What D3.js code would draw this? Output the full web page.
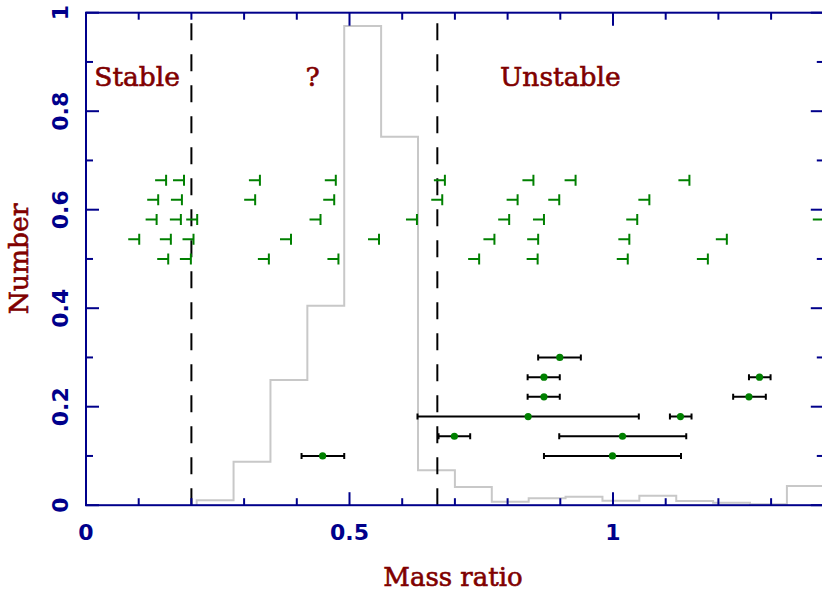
<!DOCTYPE html>
<html>
<head>
<meta charset="utf-8">
<script src="https://cdn.jsdelivr.net/npm/d3@7"></script>
<style>
  html, body { margin: 0; padding: 0; background: #fff; }
  svg { display: block; }
</style>
</head>
<body>
<svg id="chart" width="822" height="593"></svg>
<script>
// ---- data ----
const histEdges = [0.21, 0.28, 0.35, 0.42, 0.49, 0.56, 0.63, 0.70, 0.77, 0.84, 0.91, 0.98, 1.05, 1.12, 1.19, 1.26, 1.33, 1.40];
const histValues = [0.010, 0.088, 0.254, 0.405, 0.973, 0.748, 0.071, 0.037, 0.007, 0.014, 0.017, 0.009, 0.019, 0.0085, 0.005, 0.002, 0.039];

const limitRowY = [0.66, 0.62, 0.58, 0.54, 0.50];
const limitsRow066 = [0.152, 0.186, 0.330, 0.474, 0.681, 0.849, 0.929, 1.145];
const limitsRow062 = [0.137, 0.182, 0.321, 0.471, 0.676, 0.819, 0.898, 1.069];
const limitsRow058 = [0.134, 0.180, 0.211, 0.445, 0.628, 0.803, 0.869, 1.046, 1.400];
const limitsRow054 = [0.101, 0.161, 0.204, 0.389, 0.556, 0.775, 0.858, 1.031, 1.216];
const limitsRow050 = [0.000, 0.156, 0.199, 0.347, 0.479, 0.746, 0.857, 1.028, 1.180];

const pointQ  = [0.899, 0.869, 1.278, 0.869, 1.258, 0.839, 1.128, 0.699, 1.018, 0.449, 0.999];
const pointLo = [0.858, 0.838, 1.258, 0.838, 1.228, 0.629, 1.108, 0.669, 0.898, 0.409, 0.869];
const pointHi = [0.939, 0.899, 1.299, 0.899, 1.290, 1.049, 1.149, 0.729, 1.139, 0.490, 1.129];
const pointN  = [0.30, 0.26, 0.26, 0.22, 0.22, 0.18, 0.18, 0.14, 0.14, 0.10, 0.10];

const boundaries = [0.2, 2 / 3];
const regionLabels = ["Stable", "?", "Unstable"];
const regionLabelX = [0.097, 0.43, 0.90];

const xMajorTicks = [0, 0.5, 1];
const xTickLabels = ["0", "0.5", "1"];
const xMinorTicks = [0.1, 0.2, 0.3, 0.4, 0.6, 0.7, 0.8, 0.9, 1.1, 1.2, 1.3];
const yMajorTicks = [0, 0.2, 0.4, 0.6, 0.8, 1];
const yTickLabels = ["0", "0.2", "0.4", "0.6", "0.8", "1"];
const yMinorTicks = [0.1, 0.3, 0.5, 0.7, 0.9];

const xTitle = "Mass ratio";
const yTitle = "Number";

// ---- drawing ----
const svg = d3.select("#chart");
const x = d3.scaleLinear().domain([0, 1.4]).range([86, 823.8]);
const y = d3.scaleLinear().domain([0, 1]).range([505.2, 12.7]);

const axisCol = "#00008b";
const titleCol = "#800000";
const green = "#008000";

svg.append("defs").append("clipPath").attr("id", "plotclip")
  .append("rect").attr("x", x(0)).attr("y", y(1))
  .attr("width", x(1.4) - x(0)).attr("height", y(0) - y(1));

const plot = svg.append("g").attr("clip-path", "url(#plotclip)");

// histogram as a step line
const histPts = [[histEdges[0], 0]];
histValues.forEach((v, i) => {
  histPts.push([histEdges[i], v]);
  histPts.push([histEdges[i + 1], v]);
});
histPts.push([histEdges[histEdges.length - 1], 0]);
plot.append("path")
  .attr("d", d3.line().x(d => x(d[0])).y(d => y(d[1]))(histPts))
  .attr("fill", "none").attr("stroke", "#c8c8c8").attr("stroke-width", 2);

// boundary dashed lines
plot.selectAll("line.bound").data(boundaries).join("line")
  .attr("class", "bound")
  .attr("x1", d => x(d)).attr("x2", d => x(d))
  .attr("y1", y(0)).attr("y2", y(1))
  .attr("stroke", "#000").attr("stroke-width", 2)
  .attr("stroke-dasharray", "17,14");

// limit markers
const limitRows = [limitsRow066, limitsRow062, limitsRow058, limitsRow054, limitsRow050];
const limits = [];
limitRows.forEach((row, i) => row.forEach(v => limits.push({ q: v, n: limitRowY[i] })));
const lg = plot.append("g").attr("stroke", green).attr("stroke-width", 2).attr("fill", "none");
limits.forEach(d => {
  const px = x(d.q), py = y(d.n);
  lg.append("path").attr("d", `M${px - 11},${py} H${px} M${px},${py - 5.5} V${py + 5.5}`);
});

// measured points with error bars
const pts = pointQ.map((q, i) => ({ q, lo: pointLo[i], hi: pointHi[i], n: pointN[i] }));
const eg = plot.append("g");
pts.forEach(d => {
  const py = y(d.n);
  eg.append("path")
    .attr("d", `M${x(d.lo)},${py} H${x(d.hi)} M${x(d.lo)},${py - 3} V${py + 3} M${x(d.hi)},${py - 3} V${py + 3}`)
    .attr("stroke", "#000").attr("stroke-width", 2).attr("fill", "none");
  eg.append("circle").attr("cx", x(d.q)).attr("cy", py).attr("r", 3.6).attr("fill", green);
});

// region labels
svg.selectAll("text.region").data(regionLabels).join("text")
  .attr("class", "region")
  .attr("x", (d, i) => x(regionLabelX[i])).attr("y", 86)
  .attr("text-anchor", "middle")
  .attr("font-family", "DejaVu Serif").attr("font-size", 26.5)
  .attr("fill", titleCol).attr("stroke", titleCol).attr("stroke-width", 0.6)
  .text(d => d);

// frame
const fg = svg.append("g").attr("stroke", axisCol).attr("stroke-width", 2).attr("fill", "none");
fg.append("rect").attr("x", x(0)).attr("y", y(1)).attr("width", x(1.4) - x(0)).attr("height", y(0) - y(1));

// ticks (inward, on all four sides)
const major = 13, minor = 7;
xMajorTicks.forEach(v => {
  fg.append("line").attr("x1", x(v)).attr("x2", x(v)).attr("y1", y(0)).attr("y2", y(0) - major);
  fg.append("line").attr("x1", x(v)).attr("x2", x(v)).attr("y1", y(1)).attr("y2", y(1) + major);
});
xMinorTicks.forEach(v => {
  fg.append("line").attr("x1", x(v)).attr("x2", x(v)).attr("y1", y(0)).attr("y2", y(0) - minor);
  fg.append("line").attr("x1", x(v)).attr("x2", x(v)).attr("y1", y(1)).attr("y2", y(1) + minor);
});
yMajorTicks.forEach(v => {
  fg.append("line").attr("x1", x(0)).attr("x2", x(0) + major).attr("y1", y(v)).attr("y2", y(v));
  fg.append("line").attr("x1", x(1.4)).attr("x2", x(1.4) - major).attr("y1", y(v)).attr("y2", y(v));
});
yMinorTicks.forEach(v => {
  fg.append("line").attr("x1", x(0)).attr("x2", x(0) + minor).attr("y1", y(v)).attr("y2", y(v));
  fg.append("line").attr("x1", x(1.4)).attr("x2", x(1.4) - minor).attr("y1", y(v)).attr("y2", y(v));
});

// tick labels
svg.selectAll("text.xt").data(xMajorTicks).join("text")
  .attr("class", "xt")
  .attr("x", d => x(d)).attr("y", 540)
  .attr("text-anchor", "middle")
  .attr("font-family", "DejaVu Sans").attr("font-weight", "bold").attr("font-size", 22)
  .attr("fill", axisCol).text((d, i) => xTickLabels[i]);

svg.selectAll("text.yt").data(yMajorTicks).join("text")
  .attr("class", "yt")
  .attr("transform", d => `translate(68,${y(d)}) rotate(-90)`)
  .attr("text-anchor", "middle")
  .attr("font-family", "DejaVu Sans").attr("font-weight", "bold").attr("font-size", 22)
  .attr("fill", axisCol).text((d, i) => yTickLabels[i]);

// axis titles
svg.append("text")
  .attr("x", 453).attr("y", 586)
  .attr("text-anchor", "middle")
  .attr("font-family", "DejaVu Serif").attr("font-size", 26)
  .attr("fill", titleCol).attr("stroke", titleCol).attr("stroke-width", 0.6)
  .text(xTitle);

svg.append("text")
  .attr("transform", "translate(28,259) rotate(-90)")
  .attr("text-anchor", "middle")
  .attr("font-family", "DejaVu Serif").attr("font-size", 26.5)
  .attr("fill", titleCol).attr("stroke", titleCol).attr("stroke-width", 0.6)
  .text(yTitle);
</script>
</body>
</html>
